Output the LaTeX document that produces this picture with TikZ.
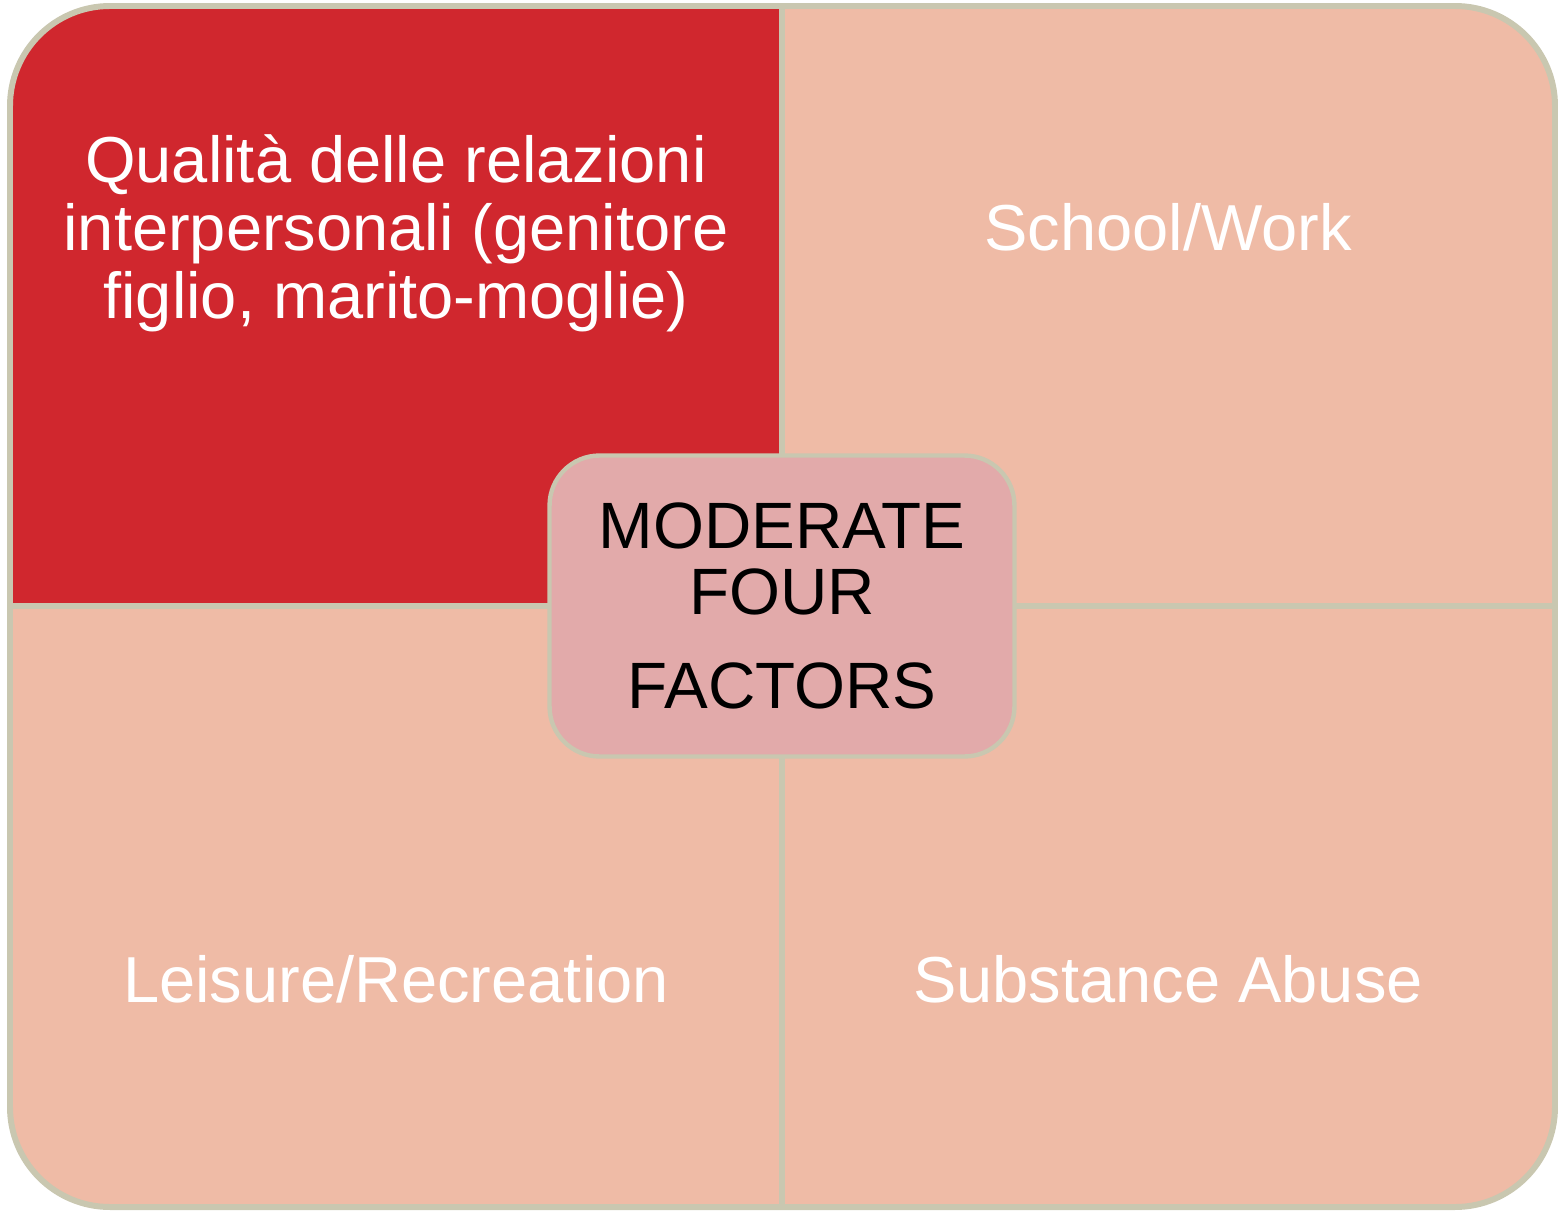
\documentclass[tikz,border=0pt]{standalone}
\usepackage{fontspec}
\setmainfont{Liberation Sans}
\definecolor{quadred}{HTML}{D0272E}
\definecolor{quadpeach}{HTML}{EFBBA6}
\definecolor{hubpink}{HTML}{E2AAAA}
\definecolor{edgegrey}{HTML}{C9C7B0}

\begin{document}
\begin{tikzpicture}[x=0.02cm, y=-0.02cm, outer sep=0pt]

\tikzstyle{edge}=[draw=edgegrey, line width=3.4pt]
\tikzstyle{label}=[text=white, font=\fontsize{37}{38.5}\selectfont, align=center, anchor=base]
\tikzstyle{hub}=[draw=edgegrey, line width=2.5pt, fill=hubpink, rounded corners=1cm, minimum width=9.3cm, minimum height=6.02cm, align=center, font=\fontsize{37.3}{37.4}\selectfont]

\useasboundingbox (0,0) rectangle (1558,1213);
\coordinate (nw) at (10,6); \coordinate (se) at (1555,1207);
\coordinate (top) at (782,6); \coordinate (bottom) at (782,1207);
\coordinate (left) at (10,606); \coordinate (right) at (1555,606); \coordinate (mid) at (782,606);

\fill[quadpeach, rounded corners=2cm] (nw) rectangle (se);
\begin{scope}
\clip[rounded corners=2cm] (nw) rectangle (se);
\fill[quadred] (nw) rectangle (mid);
\end{scope}
\draw[edge] (top) -- (bottom); \draw[edge] (left) -- (right);
\draw[edge, rounded corners=2cm] (nw) rectangle (se);

\node[label] (rel) at (396,318) {Qualità delle relazioni\\interpersonali (genitore\\figlio, marito-moglie)};
\node[label] (work) at (1168,251) {School/Work};
\node[label] (leisure) at (396,1002) {Leisure/Recreation};
\node[label] (abuse) at (1168,1002) {Substance Abuse};
\node[hub] (hub) at (mid) {MODERATE\\FOUR\\[16pt]FACTORS};

\end{tikzpicture}
\end{document}
